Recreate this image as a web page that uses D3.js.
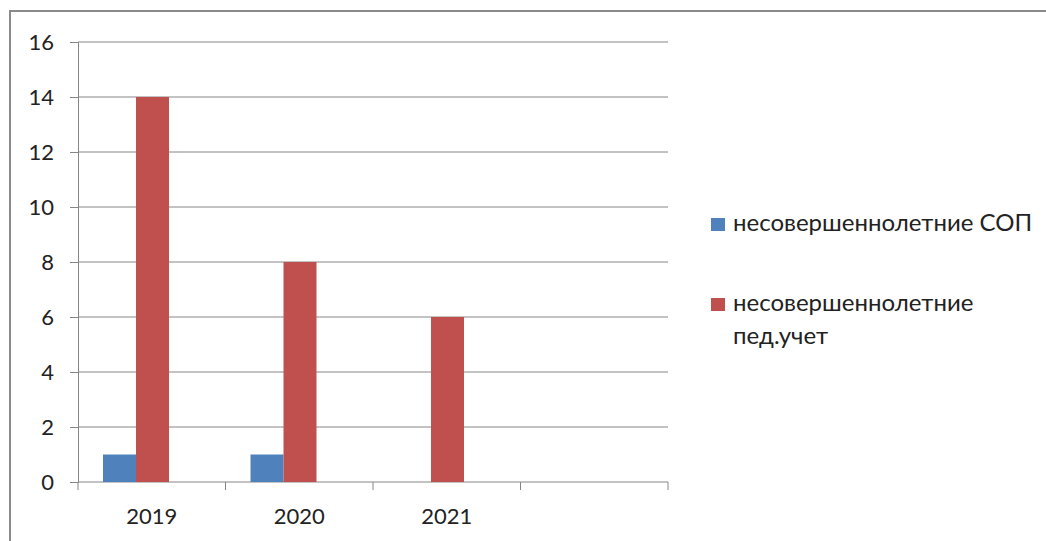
<!DOCTYPE html>
<html>
<head>
	<meta http-equiv="Content-Type" content="text/html;charset=utf-8">
	<title>Chart</title>
	<script src="https://d3js.org/d3.v7.min.js"></script>
	<style type="text/css">
		body { margin: 0; background: #fff; }
		text { font-family: Lato, "Open Sans", sans-serif; fill: #222; }
		.grid line, .axis line, .axis path { stroke: #868686; stroke-width: 1px; }
	</style>
</head>
<body>
	<svg width="1046" height="541"></svg>
	<script type="text/javascript">
		var categories = ["2019", "2020", "2021", ""];
		var seriesNames = ["несовершеннолетние СОП", "несовершеннолетние пед.учет"];
		var sop = [1, 1, 0, 0];
		var ped = [14, 8, 6, 0];
		var yTicks = [0, 2, 4, 6, 8, 10, 12, 14, 16];
		var colors = ["#4F81BD", "#C0504D"];

		var svg = d3.select("svg");
		var pLeft = 78, pRight = 668, pTop = 42, pBottom = 482;

		// frame
		svg.append("rect").attr("x", 10).attr("y", 11).attr("width", 1100).attr("height", 600)
			.attr("fill", "none").attr("stroke", "#8a8a8a").attr("stroke-width", 2);

		var x = d3.scaleBand().domain(d3.range(categories.length)).range([pLeft, pRight]);
		var y = d3.scaleLinear().domain([0, 16]).range([pBottom, pTop]);
		var barW = 33, barOffset = 25;

		// gridlines
		svg.append("g").attr("class", "grid").selectAll("line").data(yTicks.slice(1)).enter().append("line")
			.attr("x1", pLeft).attr("x2", pRight)
			.attr("y1", function (d) { return y(d); }).attr("y2", function (d) { return y(d); });

		// y axis
		var ya = svg.append("g").attr("class", "axis").attr("transform", "translate(" + pLeft + ",0)")
			.call(d3.axisLeft(y).tickValues(yTicks).tickSize(8).tickPadding(16));
		ya.selectAll("text").style("font-size", "22px").style("font-family", "Lato, sans-serif").attr("fill", "#222");

		// x axis
		var xa = svg.append("g").attr("class", "axis").attr("transform", "translate(0," + pBottom + ")");
		xa.append("line").attr("x1", pLeft).attr("x2", pRight);
		xa.selectAll(".tk").data(d3.range(categories.length + 1)).enter().append("line")
			.attr("x1", function (d) { return pLeft + d * x.bandwidth(); })
			.attr("x2", function (d) { return pLeft + d * x.bandwidth(); })
			.attr("y1", 0).attr("y2", 8);
		xa.selectAll("text").data(categories).enter().append("text")
			.attr("x", function (d, i) { return x(i) + x.bandwidth() / 2; })
			.attr("y", 42).attr("text-anchor", "middle").style("font-size", "22px")
			.text(function (d) { return d; });

		// bars
		[sop, ped].forEach(function (vals, s) {
			svg.append("g").selectAll("rect").data(vals).enter().append("rect")
				.attr("x", function (d, i) { return x(i) + barOffset + s * barW; })
				.attr("y", function (d) { return y(d); })
				.attr("width", barW)
				.attr("height", function (d) { return pBottom - y(d); })
				.attr("fill", colors[s]);
		});

		// legend
		var lg = svg.append("g");
		var rows = [{ y: 231, lines: ["несовершеннолетние СОП"] }, { y: 311, lines: ["несовершеннолетние", "пед.учет"] }];
		rows.forEach(function (r, s) {
			lg.append("rect").attr("x", 711).attr("y", r.y - 13).attr("width", 14).attr("height", 13).attr("fill", colors[s]);
			r.lines.forEach(function (t, k) {
				lg.append("text").attr("x", 733).attr("y", r.y + k * 33).style("font-size", "24px").text(t);
			});
		});
	</script>
</body>
</html>
